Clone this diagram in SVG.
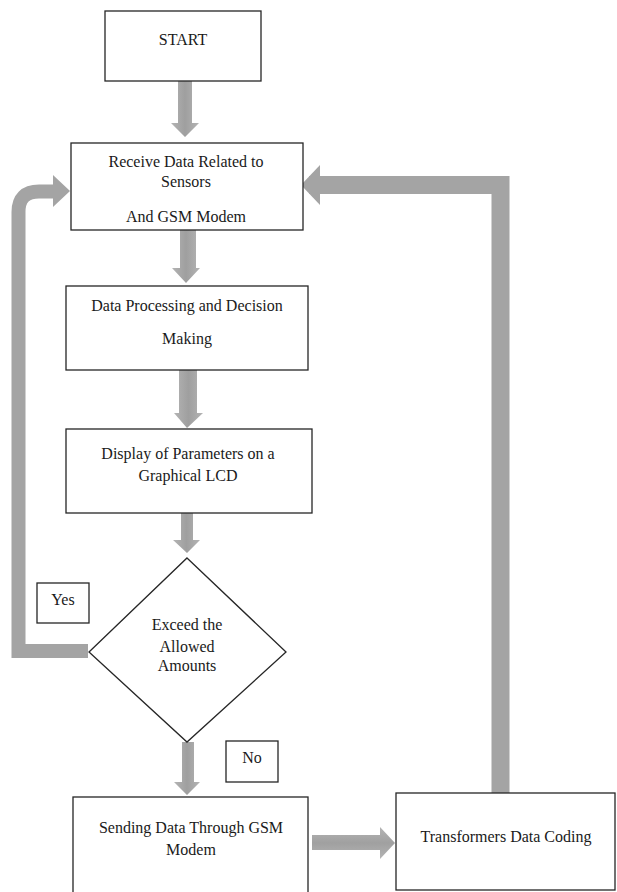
<svg xmlns="http://www.w3.org/2000/svg" width="617" height="892" viewBox="0 0 617 892">
<defs>
<linearGradient id="gv" x1="0" y1="0" x2="1" y2="0">
<stop offset="0" stop-color="#b4b4b4"/><stop offset="0.5" stop-color="#9f9f9f"/><stop offset="1" stop-color="#b4b4b4"/>
</linearGradient>
<linearGradient id="gh" x1="0" y1="0" x2="0" y2="1">
<stop offset="0" stop-color="#b4b4b4"/><stop offset="0.5" stop-color="#a0a0a0"/><stop offset="1" stop-color="#b4b4b4"/>
</linearGradient>
<style>
.box{fill:#fff;stroke:#262626;stroke-width:1.3}
.t{font-size:16px;fill:#1a1a1a;text-anchor:middle}
.av{fill:url(#gv)}
.ah{fill:url(#gh)}
.loop{fill:none;stroke:#a4a4a4}
</style>
</defs>
<rect width="617" height="892" fill="#fff"/>

<g id="connectors">
<polygon class="av" points="178,81 192,81 192,123 199,123 185,137 171,123 178,123"/>
<polygon class="av" points="180,230 196,230 196,268 200,268 186,283 172,268 180,268"/>
<polygon class="av" points="179,370 197,370 197,413 203,413 187,428 174,413 179,413"/>
<polygon class="av" points="181,513 193,513 193,540 200,540 187,553 173,540 181,540"/>
<polygon class="av" points="182,742 194,742 194,782 200,782 187,795 174,782 182,782"/>
<polygon class="ah" points="312,835 380,835 380,827 395,843 380,859 380,850 312,850"/>
<path class="loop" d="M88,651 H18.5 V212 Q18.5,191.5 39,191.5 H55" stroke-width="14" stroke-linejoin="miter"/>
<polygon fill="#a4a4a4" points="53,175 70,191 53,207"/>
<path class="loop" d="M500.5,793 V185 H318" stroke-width="18" stroke-linejoin="miter" stroke-linecap="square"/>
<polygon fill="#a4a4a4" points="320,165 301,185 320,205"/>
</g>

<g font-family="'Liberation Serif', 'DejaVu Serif', serif">
<g id="start">
<rect class="box" x="105" y="11" width="156" height="70"/>
<text class="t" x="183" y="45">START</text>
</g>

<g id="receive">
<rect class="box" x="71" y="143" width="232" height="87"/>
<text class="t" x="186" y="167">Receive Data Related to</text>
<text class="t" x="186" y="187">Sensors</text>
<text class="t" x="186" y="222">And GSM Modem</text>
</g>

<g id="processing">
<rect class="box" x="66" y="286" width="242" height="84"/>
<text class="t" x="187" y="311">Data Processing and Decision</text>
<text class="t" x="187" y="344">Making</text>
</g>

<g id="display">
<rect class="box" x="66" y="429" width="246" height="84"/>
<text class="t" x="188" y="459">Display of Parameters on a</text>
<text class="t" x="188" y="481">Graphical LCD</text>
</g>

<g id="decision">
<polygon class="box" points="187,558 286,652 187,742 89,652"/>
<text class="t" x="187" y="630">Exceed the</text>
<text class="t" x="187" y="652">Allowed</text>
<text class="t" x="187" y="671">Amounts</text>
</g>

<g id="yes">
<rect class="box" x="37" y="583" width="52" height="40"/>
<text class="t" x="63" y="605">Yes</text>
</g>

<g id="no">
<rect class="box" x="226" y="741" width="52" height="41"/>
<text class="t" x="252" y="763">No</text>
</g>

<g id="sending">
<rect class="box" x="73" y="797" width="235" height="105"/>
<text class="t" x="191" y="833">Sending Data Through GSM</text>
<text class="t" x="191" y="855">Modem</text>
</g>

<g id="coding">
<rect class="box" x="396" y="793" width="219" height="97"/>
<text class="t" x="506" y="842">Transformers Data Coding</text>
</g>
</g>
</svg>
